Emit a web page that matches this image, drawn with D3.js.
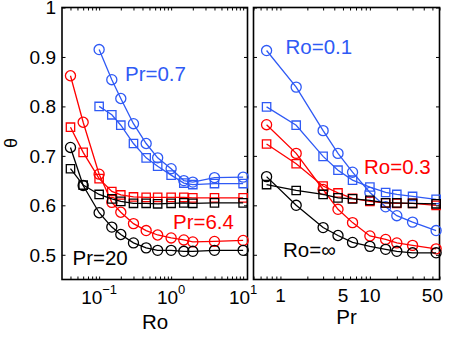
<!DOCTYPE html>
<html>
<head>
<meta charset="utf-8">
<script src="https://cdn.jsdelivr.net/npm/d3@7"></script>
<style>
body { margin: 0; background: #fff; }
text { font-family: "Liberation Sans", Arial, Helvetica, sans-serif; }
</style>
</head>
<body>
<div id="fig"></div>
<script>
// left panel: theta vs Ro
var roVals = [0.04, 0.06, 0.1, 0.15, 0.2, 0.3, 0.45, 0.65, 1, 1.5, 2, 4, 10];
var roVals07 = [0.1, 0.15, 0.2, 0.3, 0.45, 0.65, 1, 1.5, 2, 4, 10];
var pr07Circ = [0.915, 0.854, 0.816, 0.765, 0.725, 0.696, 0.674, 0.650, 0.647, 0.656, 0.657];
var pr07Sq   = [0.800, 0.783, 0.762, 0.725, 0.696, 0.679, 0.661, 0.645, 0.642, 0.644, 0.644];
var pr64Circ = [0.862, 0.768, 0.663, 0.606, 0.586, 0.563, 0.549, 0.540, 0.534, 0.530, 0.526, 0.527, 0.529];
var pr64Sq   = [0.758, 0.707, 0.654, 0.628, 0.621, 0.617, 0.616, 0.616, 0.616, 0.616, 0.615, 0.615, 0.615];
var pr20Circ = [0.717, 0.640, 0.585, 0.556, 0.541, 0.524, 0.514, 0.509, 0.509, 0.507, 0.507, 0.509, 0.509];
var pr20Sq   = [0.674, 0.641, 0.622, 0.613, 0.608, 0.604, 0.604, 0.603, 0.604, 0.605, 0.604, 0.605, 0.605];

// right panel: theta vs Pr
var prVals = [0.7, 1.5, 3, 4.4, 6.4, 10, 15, 20, 30, 55];
var ro01Circ  = [0.913, 0.839, 0.751, 0.705, 0.667, 0.626, 0.597, 0.579, 0.566, 0.549];
var ro01Sq    = [0.799, 0.762, 0.699, 0.671, 0.651, 0.637, 0.626, 0.622, 0.618, 0.612];
var ro03Circ  = [0.763, 0.705, 0.632, 0.592, 0.565, 0.538, 0.531, 0.524, 0.519, 0.512];
var ro03Sq    = [0.724, 0.684, 0.639, 0.625, 0.614, 0.608, 0.605, 0.604, 0.604, 0.600];
var roInfCirc = [0.658, 0.600, 0.555, 0.539, 0.525, 0.517, 0.511, 0.507, 0.504, 0.504];
var roInfSq   = [0.642, 0.630, 0.622, 0.615, 0.613, 0.610, 0.605, 0.605, 0.604, 0.603];

var yTicks = [0.5, 0.6, 0.7, 0.8, 0.9, 1];
var roTickLabels = [0.1, 1, 10];
var roTickExp = ["\u22121", "0", "1"];
var prTickLabels = [1, 5, 10, 50];

var blue = "#2f5af5", red = "#ff0000", black = "#000000";

var svg = d3.select("#fig").append("svg")
  .attr("width", 450)
  .attr("height", 339);
svg.append("rect").attr("width", 450).attr("height", 339).attr("fill", "#fff");

var yTop = 7.5, yBot = 279.5;
var y = d3.scaleLinear().domain([0.45, 1]).range([yBot, yTop]);
var xRo = d3.scaleLog().domain([0.0305, 11.5]).range([62, 247.5]);
var xPr = d3.scaleLog().domain([0.5, 60]).range([253.5, 439.5]);

function frame(x) {
  var x0 = x.range()[0], x1 = x.range()[1];
  var minor = x.ticks();
  // ticks on all four sides, pointing in
  svg.append("g").attr("transform", "translate(0," + yBot + ")")
    .call(d3.axisBottom(x).tickValues(minor).tickSize(-3).tickFormat(""))
    .select(".domain").remove();
  svg.append("g").attr("transform", "translate(0," + yTop + ")")
    .call(d3.axisTop(x).tickValues(minor).tickSize(-3).tickFormat(""))
    .select(".domain").remove();
  svg.append("g").attr("transform", "translate(" + x0 + ",0)")
    .call(d3.axisLeft(y).tickValues(yTicks).tickSize(-3.5).tickFormat(""))
    .select(".domain").remove();
  svg.append("g").attr("transform", "translate(" + x1 + ",0)")
    .call(d3.axisRight(y).tickValues(yTicks).tickSize(-3.5).tickFormat(""))
    .select(".domain").remove();
  svg.selectAll(".tick line").attr("stroke", "#000").attr("stroke-width", 1);
  svg.append("rect")
    .attr("x", x0).attr("y", yTop)
    .attr("width", x1 - x0).attr("height", yBot - yTop)
    .attr("fill", "none").attr("stroke", "#000").attr("stroke-width", 1.6);
}

function series(x, xs, ys, color, shape) {
  var line = d3.line()
    .x(function(d, i) { return x(xs[i]); })
    .y(function(d) { return y(d); });
  svg.append("path")
    .datum(ys)
    .attr("d", line)
    .attr("fill", "none")
    .attr("stroke", color)
    .attr("stroke-width", 1.3);
  var sym = shape == "o" ? d3.symbol().type(d3.symbolCircle).size(80)
                         : d3.symbol().type(d3.symbolSquare).size(70);
  svg.append("g").selectAll("path")
    .data(ys).enter().append("path")
    .attr("transform", function(d, i) { return "translate(" + x(xs[i]) + "," + y(d) + ")"; })
    .attr("d", sym)
    .attr("fill", "none")
    .attr("stroke", color)
    .attr("stroke-width", 1.3);
}

function note(x, yy, txt, color) {
  svg.append("text").attr("x", x).attr("y", yy)
    .style("font-size", "20.5px").attr("fill", color).text(txt);
}

frame(xRo);
frame(xPr);

// y tick labels
svg.selectAll(".ylab").data(yTicks).enter().append("text")
  .attr("x", 56)
  .attr("y", function(d) { return y(d); })
  .attr("dy", "0.36em")
  .attr("text-anchor", "end")
  .style("font-size", "19px")
  .text(function(d) { return d == 1 ? "1" : d3.format(".1f")(d); });

svg.append("text")
  .attr("transform", "translate(17,143) rotate(-90)")
  .attr("text-anchor", "middle")
  .style("font-size", "18px")
  .text("\u03b8");

// Ro tick labels: 10^n
var rl = svg.selectAll(".rolab").data(roTickLabels).enter().append("text")
  .attr("x", function(d) { return xRo(d); })
  .attr("y", 304)
  .attr("text-anchor", "middle")
  .style("font-size", "19px");
rl.append("tspan").text("10");
rl.append("tspan").attr("dy", -10).style("font-size", "13px")
  .text(function(d, i) { return roTickExp[i]; });

svg.selectAll(".prlab").data(prTickLabels).enter().append("text")
  .attr("x", function(d) { return xPr(d); })
  .attr("y", 302)
  .attr("text-anchor", "middle")
  .style("font-size", "19px")
  .text(function(d) { return d; });

svg.append("text").attr("x", 155).attr("y", 329)
  .attr("text-anchor", "middle").style("font-size", "20.5px").text("Ro");
svg.append("text").attr("x", 346.5).attr("y", 324)
  .attr("text-anchor", "middle").style("font-size", "20.5px").text("Pr");

// left panel curves
series(xRo, roVals07, pr07Circ, blue, "o");
series(xRo, roVals07, pr07Sq, blue, "s");
series(xRo, roVals, pr64Circ, red, "o");
series(xRo, roVals, pr64Sq, red, "s");
series(xRo, roVals, pr20Circ, black, "o");
series(xRo, roVals, pr20Sq, black, "s");

// right panel curves
series(xPr, prVals, ro01Circ, blue, "o");
series(xPr, prVals, ro01Sq, blue, "s");
series(xPr, prVals, ro03Circ, red, "o");
series(xPr, prVals, ro03Sq, red, "s");
series(xPr, prVals, roInfCirc, black, "o");
series(xPr, prVals, roInfSq, black, "s");

note(125, 81, "Pr=0.7", blue);
note(173, 228.5, "Pr=6.4", red);
note(72.5, 265, "Pr=20", black);
note(285.5, 53.5, "Ro=0.1", blue);
note(364, 173.5, "Ro=0.3", red);
note(283, 257, "Ro=\u221e", black);
</script>
</body>
</html>
